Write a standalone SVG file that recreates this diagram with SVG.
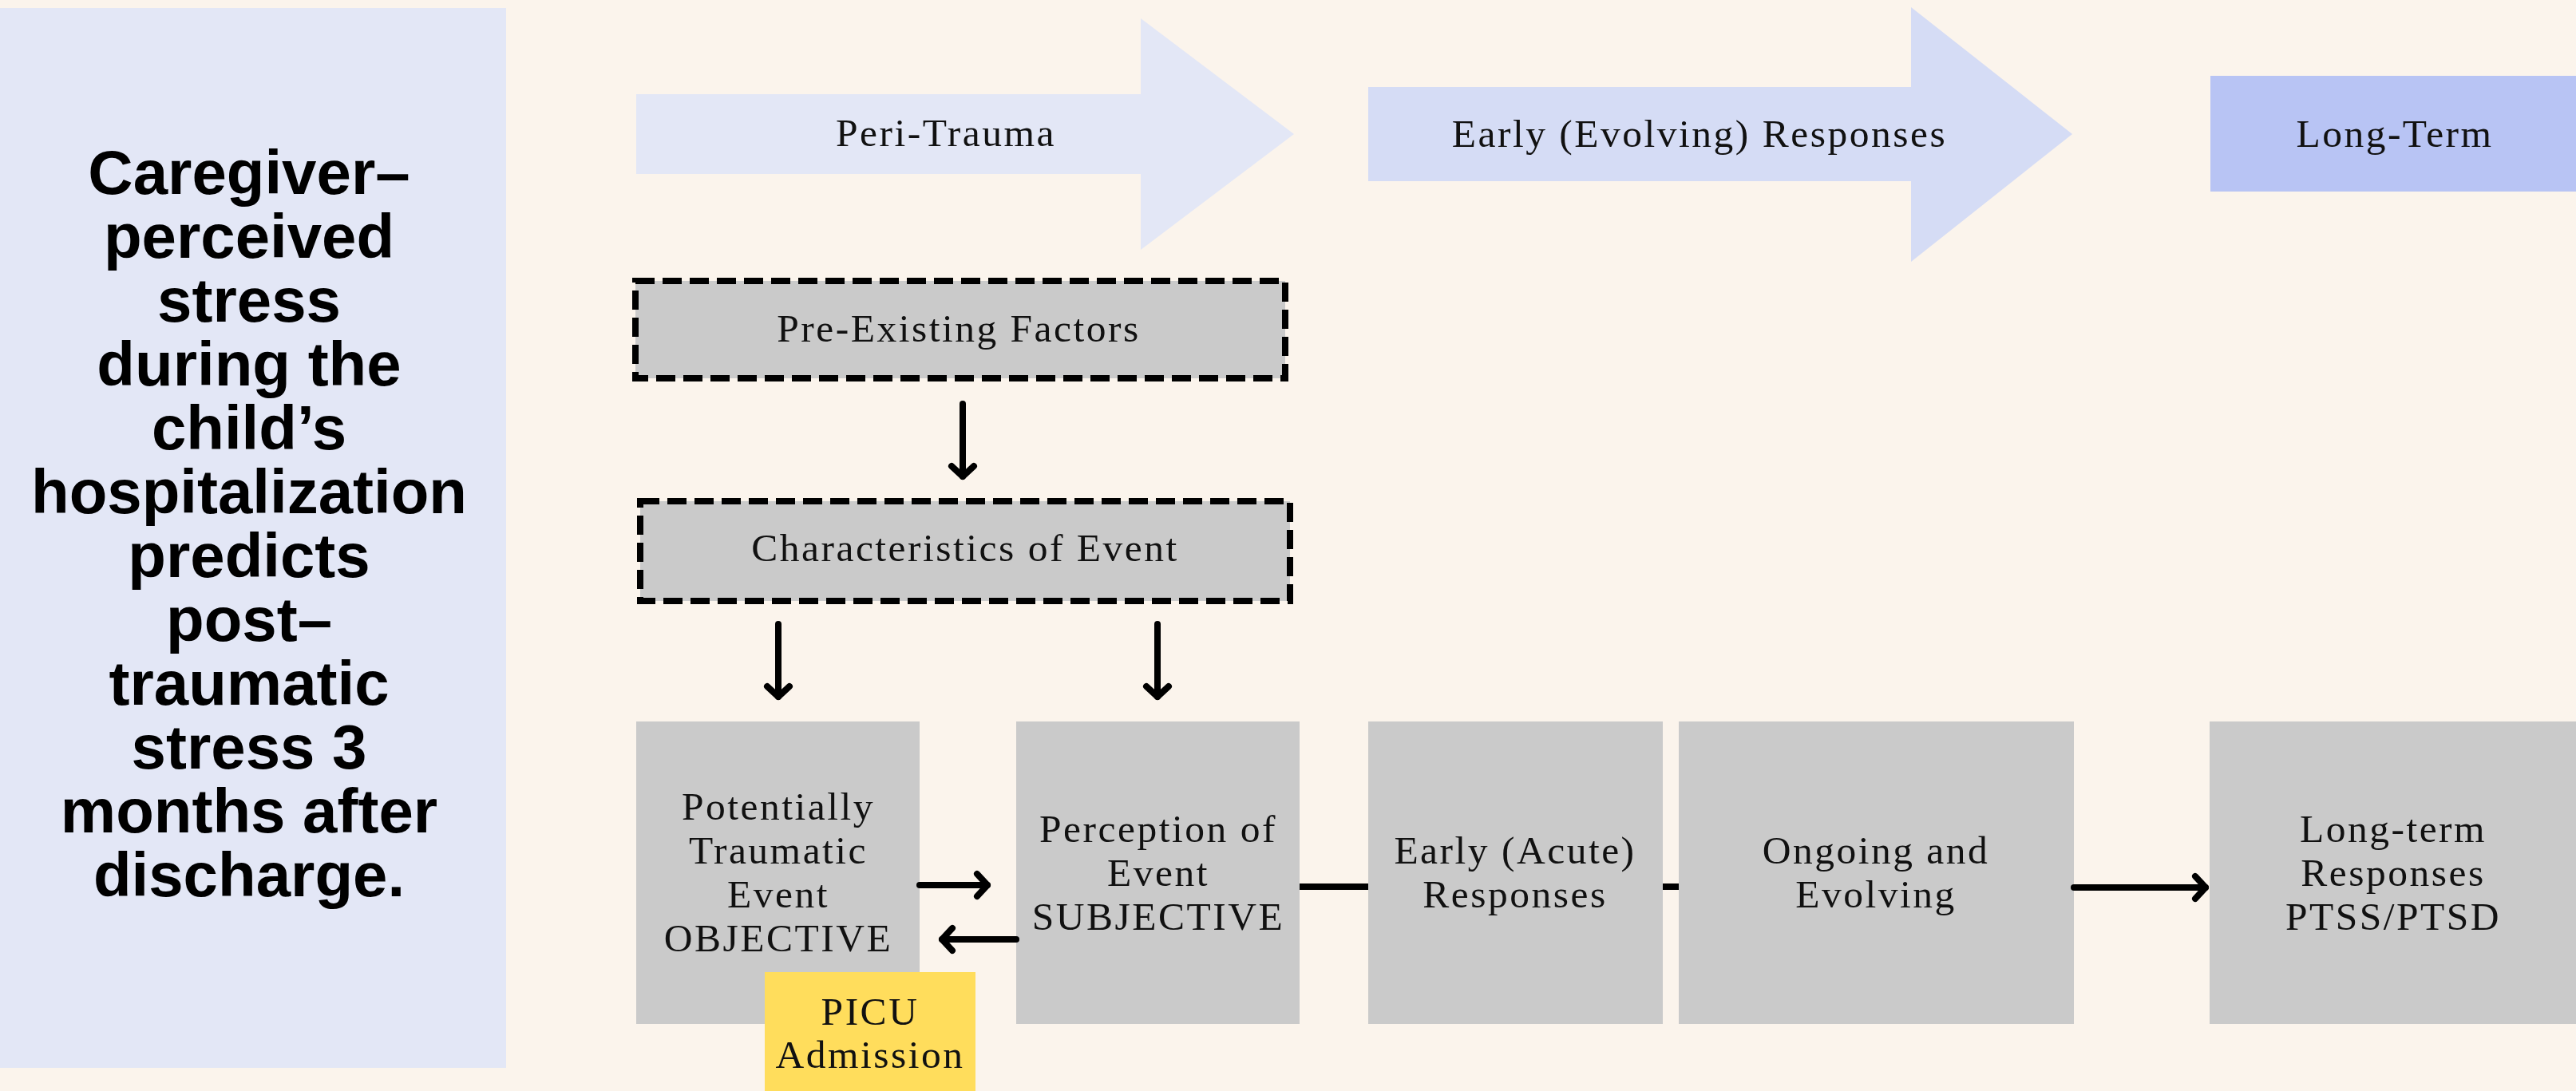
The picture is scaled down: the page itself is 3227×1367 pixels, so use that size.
<svg xmlns="http://www.w3.org/2000/svg" width="3227" height="1367" viewBox="0 0 3227 1367">
  <style>
    .serif { font-family: "Liberation Serif", "Times New Roman", serif; font-size: 49.5px; letter-spacing: 2.5px; fill: #111; text-anchor: middle; }
    .title { font-family: "Liberation Sans", Arial, sans-serif; font-weight: bold; font-size: 78px; fill: #000; text-anchor: middle; }
    .box { fill: #CACACA; }
    .dashed { fill: #CACACA; stroke: #000; stroke-width: 8; stroke-dasharray: 24 10; }
    .wire { fill: none; stroke: #000; stroke-width: 8; stroke-linecap: round; }
    .bar { fill: none; stroke: #000; stroke-width: 8; }
  </style>
  <defs>
    <marker id="chev" viewBox="-20 -20 26 40" markerWidth="26" markerHeight="40" refX="0" refY="0" orient="auto" markerUnits="userSpaceOnUse" overflow="visible">
      <path d="M-13,-14 L0,0 L-13,14" fill="none" stroke="#000" stroke-width="8" stroke-linecap="round" stroke-linejoin="round"/>
    </marker>
  </defs>

  <!-- page background -->
  <rect x="0" y="0" width="3227" height="1367" fill="#FBF4EC"/>

  <!-- summary panel -->
  <g id="summary">
    <rect x="0" y="10" width="634" height="1328" fill="#E3E7F6"/>
    <text class="title" x="312" y="243">Caregiver–</text>
    <text class="title" x="312" y="323">perceived</text>
    <text class="title" x="312" y="403">stress</text>
    <text class="title" x="312" y="483">during the</text>
    <text class="title" x="312" y="563">child’s</text>
    <text class="title" x="312" y="643">hospitalization</text>
    <text class="title" x="312" y="723">predicts</text>
    <text class="title" x="312" y="803">post–</text>
    <text class="title" x="312" y="883">traumatic</text>
    <text class="title" x="312" y="963">stress 3</text>
    <text class="title" x="312" y="1043">months after</text>
    <text class="title" x="312" y="1123">discharge.</text>
  </g>

  <!-- phase headers -->
  <g id="phase-peri">
    <polygon points="797,118 1429,118 1429,23 1621,168 1429,313 1429,218 797,218" fill="#E3E7F6"/>
    <text class="serif" x="1185" y="183">Peri-Trauma</text>
  </g>
  <g id="phase-early">
    <polygon points="1714,109 2394,109 2394,9 2596,168 2394,328 2394,227 1714,227" fill="#D5DCF5"/>
    <text class="serif" x="2129" y="184">Early (Evolving) Responses</text>
  </g>
  <g id="phase-long">
    <rect x="2769" y="95" width="458" height="145" fill="#B8C4F4"/>
    <text class="serif" x="3000" y="184">Long-Term</text>
  </g>

  <!-- factor boxes -->
  <g id="pre-existing">
    <rect class="dashed" x="796" y="352" width="814" height="122"/>
    <text class="serif" x="1201" y="428">Pre-Existing Factors</text>
  </g>
  <g id="characteristics">
    <rect class="dashed" x="802" y="628" width="814" height="125"/>
    <text class="serif" x="1209" y="703">Characteristics of Event</text>
  </g>

  <!-- process boxes -->
  <g id="objective-event">
    <rect class="box" x="797" y="904" width="355" height="379"/>
    <text class="serif" x="975" y="1027">Potentially</text>
    <text class="serif" x="975" y="1082">Traumatic</text>
    <text class="serif" x="975" y="1137">Event</text>
    <text class="serif" x="975" y="1192">OBJECTIVE</text>
  </g>
  <g id="picu">
    <rect x="958" y="1218" width="264" height="149" fill="#FFDD5C"/>
    <text class="serif" x="1090" y="1284">PICU</text>
    <text class="serif" x="1090" y="1338">Admission</text>
  </g>
  <g id="subjective-perception">
    <rect class="box" x="1273" y="904" width="355" height="379"/>
    <text class="serif" x="1451" y="1055">Perception of</text>
    <text class="serif" x="1451" y="1110">Event</text>
    <text class="serif" x="1451" y="1165">SUBJECTIVE</text>
  </g>
  <g id="early-acute">
    <rect class="box" x="1714" y="904" width="369" height="379"/>
    <text class="serif" x="1898" y="1082">Early (Acute)</text>
    <text class="serif" x="1898" y="1137">Responses</text>
  </g>
  <g id="ongoing">
    <rect class="box" x="2103" y="904" width="495" height="379"/>
    <text class="serif" x="2350" y="1082">Ongoing and</text>
    <text class="serif" x="2350" y="1137">Evolving</text>
  </g>
  <g id="long-term">
    <rect class="box" x="2768" y="904" width="459" height="379"/>
    <text class="serif" x="2998" y="1055">Long-term</text>
    <text class="serif" x="2998" y="1110">Responses</text>
    <text class="serif" x="2998" y="1165">PTSS/PTSD</text>
  </g>

  <!-- connectors -->
  <g id="connectors">
    <line class="wire" x1="1206" y1="506" x2="1206" y2="597" marker-end="url(#chev)"/>
    <line class="wire" x1="975" y1="782" x2="975" y2="873" marker-end="url(#chev)"/>
    <line class="wire" x1="1450" y1="782" x2="1450" y2="873" marker-end="url(#chev)"/>
    <line class="wire" x1="1152" y1="1109" x2="1237" y2="1109" marker-end="url(#chev)"/>
    <line class="wire" x1="1273" y1="1177" x2="1180" y2="1177" marker-end="url(#chev)"/>
    <line class="bar" x1="1628" y1="1111" x2="1714" y2="1111"/>
    <line class="bar" x1="2083" y1="1111" x2="2103" y2="1111"/>
    <line class="wire" x1="2598" y1="1112" x2="2763" y2="1112" marker-end="url(#chev)"/>
  </g>
</svg>
